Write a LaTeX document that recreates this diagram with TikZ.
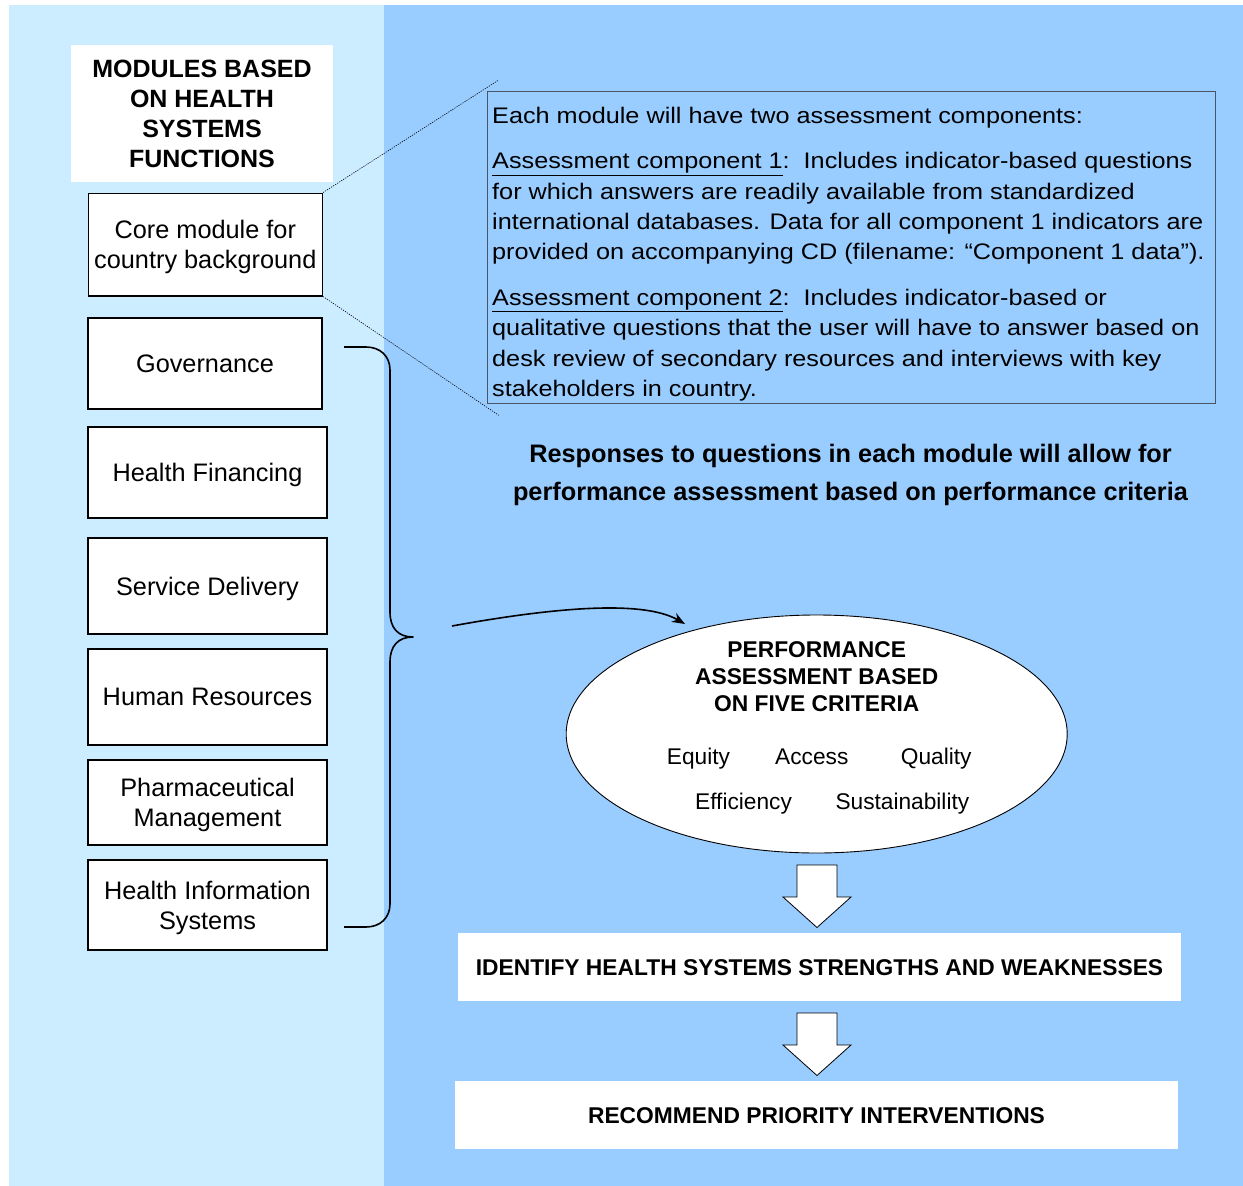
\documentclass[tikz,border=0pt]{standalone}
\usepackage{fontspec}
\setmainfont{Liberation Sans}
\newfontfamily\widefont[FakeStretch=1.122]{Liberation Sans}
\usetikzlibrary{shapes.geometric,arrows.meta}
\definecolor{lightpanel}{RGB}{204,236,255}
\definecolor{bluepanel}{RGB}{153,204,255}
\definecolor{boxline}{RGB}{72,84,104}
\tikzset{
  modbox/.style={draw=black, line width=1.5pt, fill=white, align=center, inner sep=0pt, text depth=0pt, font=\fontsize{25.3}{30}\selectfont},
  whitebox/.style={fill=white, inner sep=0pt, align=center},
  blockarrow/.style={draw=black, line width=0.8pt, fill=white, line join=miter},
  zoomline/.style={line width=0.6pt, dash pattern=on 1.2pt off 1.2pt},
  crit/.style={anchor=base west, inner sep=0pt, font=\fontsize{22.7}{27}\selectfont},
  heavy/.style={line width=1.6pt},
}
\begin{document}
\begin{tikzpicture}[x=1pt,y=-1pt]
\useasboundingbox (0,0) rectangle (1243,1186);
\fill[white] (0,0) rectangle (1243,1186);
\fill[lightpanel] (9,5) rectangle (384,1186);
\fill[bluepanel] (384,5) rectangle (1243,1186);

% left column
\node[whitebox, minimum width=262pt, minimum height=137pt, font=\bfseries\fontsize{25}{30}\selectfont] (title) at (202,113.4) {MODULES BASED\\ON HEALTH\\SYSTEMS\\FUNCTIONS};
\node[modbox, minimum width=234pt, minimum height=102.5pt] (core) at (205.3,244.5) {Core module for\\country background};
\node[modbox, minimum width=234pt, minimum height=91pt] (gov) at (205,363.5) {Governance};
\node[modbox, minimum width=239pt, minimum height=91pt] (fin) at (207.5,472.5) {Health Financing};
\node[modbox, minimum width=239pt, minimum height=96pt] (serv) at (207.5,586) {Service Delivery};
\node[modbox, minimum width=239pt, minimum height=96pt] (hr) at (207.5,697) {Human Resources};
\node[modbox, minimum width=239pt, minimum height=85pt] (pharm) at (207.5,802.5) {Pharmaceutical\\Management};
\node[modbox, minimum width=239pt, minimum height=90pt] (his) at (207.5,905) {Health Information\\Systems};

% brace
\draw[heavy, line join=round] (344,347) -- (366,347) .. controls (380,347) and (390,356) .. (390,370) -- (390,612) .. controls (390,628) and (398,637) .. (413,637) .. controls (398,637) and (390,646) .. (390,662) -- (390,904) .. controls (390,918) and (380,927) .. (366,927) -- (344,927);

% assessment components box
\node[draw=boxline, line width=1pt, minimum width=728pt, minimum height=312pt, inner sep=0pt] (comp) at (851,247.2) {};
\node[anchor=north west, inner sep=0pt, align=left, font=\widefont\fontsize{22.5}{30.3}\selectfont] (comptext) at (492,106.5) {Each module will have two assessment components:\\[15.5pt]
\underline{Assessment component 1}:\ \ Includes indicator-based questions\\
for which answers are readily available from standardized\\
international databases. Data for all component 1 indicators are\\
provided on accompanying CD (filename: “Component 1 data”).\\[15.5pt]
\underline{Assessment component 2}:\ \ Includes indicator-based or\\
qualitative questions that the user will have to answer based on\\
desk review of secondary resources and interviews with key\\
stakeholders in country.};

\coordinate (zt) at (498.7,80);
\coordinate (zb) at (498.7,415.3);
\draw[zoomline] (core.north east) -- (zt);
\draw[zoomline] (core.south east) -- (zb);

% responses text
\node[inner sep=0pt, align=center, font=\bfseries\fontsize{25.3}{38}\selectfont] (resp) at (850.5,475) {Responses to questions in each module will allow for\\performance assessment based on performance criteria};

% ellipse
\node[ellipse, draw, line width=0.9pt, fill=white, minimum width=501pt, minimum height=238pt, inner sep=0pt] (perf) at (816.7,734) {};
\node[inner sep=0pt, align=center, font=\bfseries\fontsize{22.8}{27}\selectfont] (perftitle) at (816.7,676.5) {PERFORMANCE\\ASSESSMENT BASED\\ON FIVE CRITERIA};
\node[crit] (equity) at (666.7,764) {Equity};
\node[crit] (access) at (775,764) {Access};
\node[crit] (quality) at (900.7,764) {Quality};
\node[crit] (effic) at (695,809) {Efficiency};
\node[crit] (sustain) at (835.3,809) {Sustainability};

% curved arrow
\coordinate (cs) at (452,626);
\coordinate (ae) at (685,624);
\draw[heavy, -{Stealth[length=13pt,width=10pt]}] (cs) .. controls (540,610) and (640,598) .. (ae);

% bottom boxes
\node[whitebox, minimum width=723pt, minimum height=68pt, font=\bfseries\fontsize{22.8}{27}\selectfont] (ident) at (819.5,967.3) {IDENTIFY HEALTH SYSTEMS STRENGTHS AND WEAKNESSES};
\node[whitebox, minimum width=723pt, minimum height=68pt, font=\bfseries\fontsize{22.8}{27}\selectfont] (recom) at (816.5,1115.2) {RECOMMEND PRIORITY INTERVENTIONS};

% block arrows
\draw[blockarrow] (797,865) -- (837,865) -- (837,897) -- (851,897) -- (817,927.5) -- (783,897) -- (797,897) -- cycle;
\draw[blockarrow] (797,1013) -- (837,1013) -- (837,1045) -- (851,1045) -- (817,1075.5) -- (783,1045) -- (797,1045) -- cycle;
\end{tikzpicture}
\end{document}
